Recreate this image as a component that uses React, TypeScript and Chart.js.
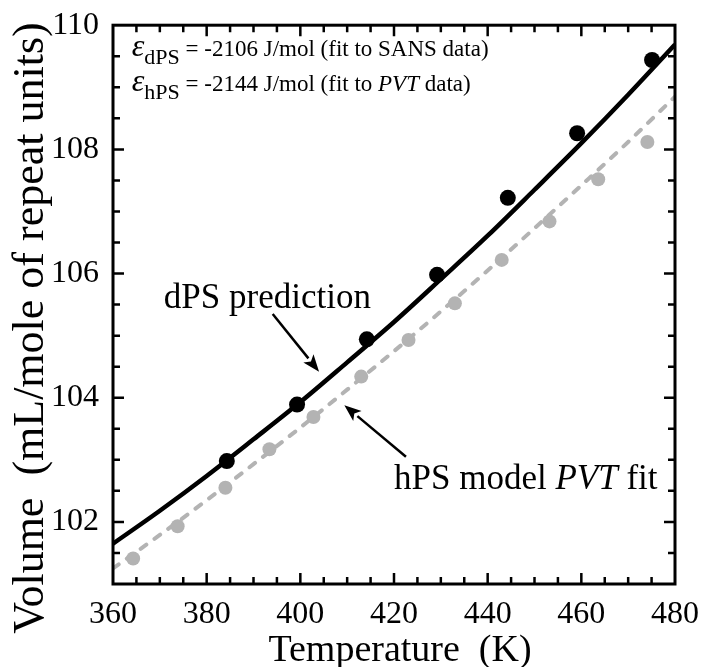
import { useEffect, useRef } from 'react';
import { Chart, registerables } from 'chart.js';
Chart.register(...registerables);

// ---- data ----
const T_DPS_POINTS = [384.3, 399.3, 414.2, 429.2, 444.3, 459.1, 475.1];
const V_DPS_POINTS = [102.98, 103.89, 104.94, 105.98, 107.22, 108.26, 109.44];

const T_HPS_POINTS = [364.3, 373.8, 384.0, 393.4, 402.8, 413.0, 423.1, 433.0, 443.0, 453.2, 463.6, 474.1];
const V_HPS_POINTS = [101.41, 101.93, 102.55, 103.17, 103.69, 104.34, 104.93, 105.52, 106.22, 106.84, 107.52, 108.12];

const T_CURVE = [360, 370, 380, 390, 400, 410, 420, 430, 440, 450, 460, 470, 480];
const V_DPS_CURVE = [101.65, 102.18, 102.74, 103.33, 103.93, 104.57, 105.22, 105.91, 106.61, 107.35, 108.10, 108.88, 109.69];
const V_HPS_CURVE = [101.25, 101.79, 102.35, 102.93, 103.52, 104.13, 104.75, 105.39, 106.05, 106.73, 107.42, 108.12, 108.85];

const X_TICKS = [360, 380, 400, 420, 440, 460, 480];
const Y_TICKS = [102, 104, 106, 108, 110];
const X_MINOR_STEP = 5;
const Y_MINOR_STEP = 0.5;

const X_TITLE = 'Temperature  (K)';
const Y_TITLE = 'Volume  (mL/mole of repeat units)';

const SERIF = '"Liberation Serif", "Times New Roman", Times, serif';
const GRAY = '#b3b3b3';

const pts = (xs: number[], ys: number[]) => xs.map((x, i) => ({ x, y: ys[i] }));

type Run = { text: string; italic?: boolean; size: number; dy?: number };

function drawRuns(ctx: CanvasRenderingContext2D, x: number, y: number, runs: Run[]) {
  let cx = x;
  for (const r of runs) {
    ctx.font = `${r.italic ? 'italic ' : ''}${r.size}px ${SERIF}`;
    ctx.fillText(r.text, cx, y + (r.dy || 0));
    cx += ctx.measureText(r.text).width;
  }
}

function arrow(ctx: CanvasRenderingContext2D, x1: number, y1: number, x2: number, y2: number) {
  const ang = Math.atan2(y2 - y1, x2 - x1);
  const hl = 17, hw = 6.5;
  const bx = x2 - hl * Math.cos(ang), by = y2 - hl * Math.sin(ang);
  ctx.save();
  ctx.strokeStyle = '#000';
  ctx.fillStyle = '#000';
  ctx.lineWidth = 2.5;
  ctx.beginPath();
  ctx.moveTo(x1, y1);
  ctx.lineTo(bx, by);
  ctx.stroke();
  ctx.beginPath();
  ctx.moveTo(x2, y2);
  ctx.lineTo(bx + hw * Math.sin(ang), by - hw * Math.cos(ang));
  ctx.lineTo(x2 - (hl - 4) * Math.cos(ang), y2 - (hl - 4) * Math.sin(ang));
  ctx.lineTo(bx - hw * Math.sin(ang), by + hw * Math.cos(ang));
  ctx.closePath();
  ctx.fill();
  ctx.restore();
}

export default function App() {
  const ref = useRef<HTMLCanvasElement>(null);

  useEffect(() => {
    const decor = {
      id: 'decor',
      afterDatasetsDraw(chart: any) {
        const { ctx, chartArea: a, scales } = chart;
        const xs = scales.x, ys = scales.y;
        ctx.save();
        ctx.strokeStyle = '#000';
        ctx.lineWidth = 3;
        ctx.strokeRect(a.left, a.top, a.right - a.left, a.bottom - a.top);
        ctx.lineWidth = 2.5;
        ctx.beginPath();
        for (let v = xs.min + X_MINOR_STEP; v < xs.max - 0.01; v += X_MINOR_STEP) {
          const px = xs.getPixelForValue(v);
          const len = X_TICKS.includes(Math.round(v)) ? 11 : 7;
          ctx.moveTo(px, a.bottom);
          ctx.lineTo(px, a.bottom - len);
          ctx.moveTo(px, a.top);
          ctx.lineTo(px, a.top + len);
        }
        for (let v = ys.min + Y_MINOR_STEP; v < ys.max - 0.01; v += Y_MINOR_STEP) {
          const py = ys.getPixelForValue(v);
          const len = Y_TICKS.includes(Math.round(v * 10) / 10) ? 11 : 7;
          ctx.moveTo(a.left, py);
          ctx.lineTo(a.left + len, py);
          ctx.moveTo(a.right, py);
          ctx.lineTo(a.right - len, py);
        }
        ctx.stroke();
        ctx.restore();
      },
      afterDraw(chart: any) {
        const { ctx, scales } = chart;
        const X = (v: number) => scales.x.getPixelForValue(v);
        const Y = (v: number) => scales.y.getPixelForValue(v);
        ctx.save();
        ctx.fillStyle = '#000';
        ctx.textBaseline = 'alphabetic';
        ctx.textAlign = 'left';

        // epsilon annotations
        drawRuns(ctx, X(364.0), Y(109.50), [
          { text: 'ε', italic: true, size: 32 },
          { text: 'dPS', size: 22, dy: 8 },
          { text: ' = -2106 J/mol (fit to SANS data)', size: 23 },
        ]);
        drawRuns(ctx, X(364.0), Y(108.94), [
          { text: 'ε', italic: true, size: 32 },
          { text: 'hPS', size: 22, dy: 8 },
          { text: ' = -2144 J/mol (fit to ', size: 23 },
          { text: 'PVT', italic: true, size: 23 },
          { text: ' data)', size: 23 },
        ]);

        // curve labels
        drawRuns(ctx, X(370.85), Y(105.44), [{ text: 'dPS prediction', size: 35 }]);
        drawRuns(ctx, X(420.0), Y(102.53), [
          { text: 'hPS model ', size: 35 },
          { text: 'PVT', italic: true, size: 35 },
          { text: ' fit', size: 35 },
        ]);

        arrow(ctx, X(394.1), Y(105.35), X(404.0), Y(104.42));
        arrow(ctx, X(422.55), Y(103.05), X(409.4), Y(103.88));

        // axis titles
        ctx.font = `38px ${SERIF}`;
        ctx.textAlign = 'center';
        ctx.fillText(X_TITLE, 400, 661);
        ctx.save();
        ctx.translate(43, 328);
        ctx.rotate(-Math.PI / 2);
        ctx.font = `44px ${SERIF}`;
        ctx.fillText(Y_TITLE, 0, 0);
        ctx.restore();
        ctx.restore();
      },
    };

    const chart = new Chart(ref.current as HTMLCanvasElement, {
      type: 'scatter',
      data: {
        datasets: [
          {
            label: 'dPS data',
            data: pts(T_DPS_POINTS, V_DPS_POINTS),
            backgroundColor: '#000',
            borderColor: '#000',
            pointRadius: 8,
            borderWidth: 0,
            order: 1,
          },
          {
            type: 'line',
            label: 'dPS prediction',
            data: pts(T_CURVE, V_DPS_CURVE),
            borderColor: '#000',
            borderWidth: 4.5,
            pointRadius: 0,
            showLine: true,
            fill: false,
            cubicInterpolationMode: 'monotone',
            order: 2,
          },
          {
            label: 'hPS data',
            data: pts(T_HPS_POINTS, V_HPS_POINTS),
            backgroundColor: GRAY,
            borderColor: GRAY,
            pointRadius: 7,
            borderWidth: 0,
            order: 3,
          },
          {
            type: 'line',
            label: 'hPS model PVT fit',
            data: pts(T_CURVE, V_HPS_CURVE),
            borderColor: GRAY,
            borderWidth: 4,
            borderDash: [7, 10],
            borderCapStyle: 'round',
            pointRadius: 0,
            showLine: true,
            fill: false,
            cubicInterpolationMode: 'monotone',
            order: 4,
          },
        ] as any,
      },
      options: {
        animation: false,
        responsive: true,
        maintainAspectRatio: false,
        layout: { padding: { left: 0, right: 25, top: 22, bottom: 0 } },
        plugins: { legend: { display: false }, tooltip: { enabled: false } },
        scales: {
          x: {
            type: 'linear',
            position: 'bottom',
            min: 360,
            max: 480,
            grid: { display: false },
            border: { display: false },
            afterBuildTicks: (s: any) => { s.ticks = X_TICKS.map((v) => ({ value: v })); },
            afterFit: (s: any) => { s.height = 83; },
            ticks: {
              color: '#000',
              padding: 3,
              maxRotation: 0,
              autoSkip: false,
              font: { family: SERIF, size: 32 },
            },
          },
          y: {
            type: 'linear',
            position: 'left',
            min: 101,
            max: 110,
            grid: { display: false },
            border: { display: false },
            afterBuildTicks: (s: any) => { s.ticks = Y_TICKS.map((v) => ({ value: v })); },
            afterFit: (s: any) => { s.width = 113; },
            ticks: {
              color: '#000',
              padding: 6,
              autoSkip: false,
              font: { family: SERIF, size: 32 },
            },
          },
        },
      } as any,
      plugins: [decor],
    });
    return () => chart.destroy();
  }, []);

  return (
    <div style={{ position: 'absolute', left: 0, top: 0, width: 702, height: 667, background: '#fff' }}>
      <canvas ref={ref} />
    </div>
  );
}
